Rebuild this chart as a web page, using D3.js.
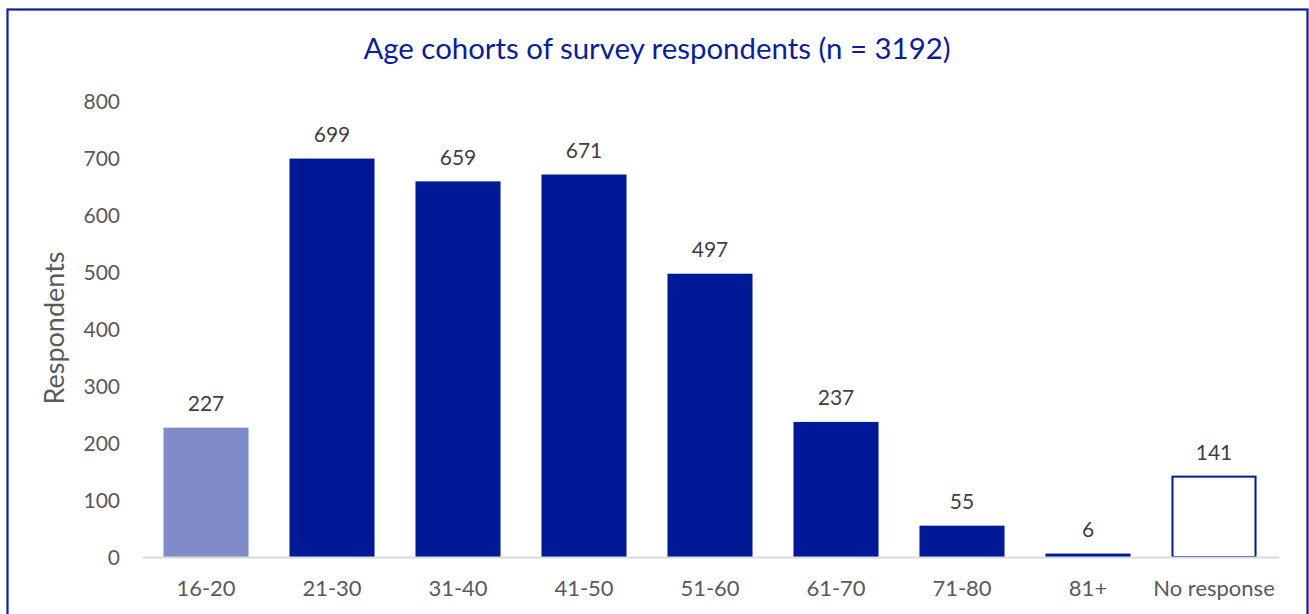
<!DOCTYPE html>
<html><head><meta charset="utf-8">
<script src="https://cdn.jsdelivr.net/npm/d3@7"></script>
<style>
html,body{margin:0;padding:0;background:#fff;}
svg{display:block;font-family:Lato, "Open Sans", sans-serif;}
</style></head>
<body>
<svg id="chart" width="1309" height="614"></svg>
<script>
const categories = ["16-20","21-30","31-40","41-50","51-60","61-70","71-80","81+","No response"];
const respondents = [227,699,659,671,497,237,55,6,141];
const yTicks = [0,100,200,300,400,500,600,700,800];
const titleText = "Age cohorts of survey respondents (n = 3192)";
const yAxisLabel = "Respondents";

const svg = d3.select("#chart");
const W = 1309, H = 614;
const dark = "#001996", light = "#7f8cc9";

svg.append("rect").attr("x",7.5).attr("y",9.5).attr("width",1300).attr("height",H+20)
  .attr("fill","#fff").attr("stroke","#0b1f9c").attr("stroke-width",2.2);

const x = d3.scaleBand().domain(categories).range([143,1277]).paddingInner(0.325).paddingOuter(0.1625);
const y = d3.scaleLinear().domain([0,800]).range([557,101]);

// y axis
const yAxis = d3.axisLeft(y).tickValues(yTicks).tickSize(0).tickPadding(0);
const gy = svg.append("g").attr("transform","translate(120,0)").call(yAxis);
gy.select(".domain").remove();
gy.selectAll("text").attr("font-size",21).attr("fill","#595959").attr("font-family","Lato").attr("dy","0.36em");

// bars
svg.append("g").selectAll("rect").data(respondents).join("rect")
  .attr("x",(d,i)=>x(categories[i]) + (i===categories.length-1?1:0))
  .attr("y",d=>y(d))
  .attr("width",(d,i)=>x.bandwidth() - (i===categories.length-1?2:0))
  .attr("height",d=>y(0)-y(d))
  .attr("fill",(d,i)=> i===0 ? light : (i===categories.length-1 ? "#fff" : dark))
  .attr("stroke",(d,i)=> i===categories.length-1 ? dark : "none")
  .attr("stroke-width",2);

// baseline
const gx = svg.append("g").attr("transform","translate(0,557)")
  .call(d3.axisBottom(x).tickSize(0).tickPadding(0));
gx.select(".domain").attr("d","M143,0.5H1279").attr("stroke","#d9d9d9").attr("stroke-width",2);
gx.selectAll("text").attr("font-size",22).attr("fill","#595959").attr("font-family","Lato").attr("dy","0").attr("y",39);

// data labels
svg.append("g").selectAll("text").data(respondents).join("text")
  .attr("x",(d,i)=>x(categories[i])+x.bandwidth()/2)
  .attr("y",d=>y(d)-24)
  .attr("dy","0.36em")
  .attr("text-anchor","middle")
  .attr("font-size",21).attr("fill","#404040")
  .text(d=>d);

// title
svg.append("text").attr("x",657).attr("y",59).attr("text-anchor","middle")
  .attr("font-size",29.4).attr("fill","#0a1e9a").text(titleText);

// y axis label
svg.append("text").attr("transform","translate(54,328) rotate(-90)")
  .attr("text-anchor","middle").attr("dy","0.36em")
  .attr("font-size",27).attr("fill","#595959").text(yAxisLabel);
</script>
</body></html>
